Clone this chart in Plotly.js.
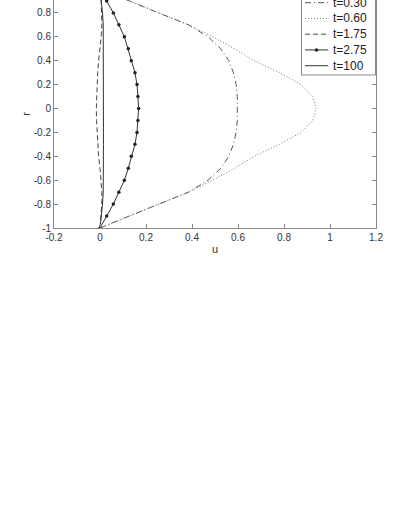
<!DOCTYPE html>
<html>
<head>
<meta charset="utf-8">
<script src="https://cdn.plot.ly/plotly-3.0.1.min.js"></script>
<style>html,body{margin:0;padding:0;background:#fff;}#chart{width:399px;height:516px;}</style>
</head>
<body>
<div id="chart"></div>
<script>
// radial positions
var r = [-1,-0.9,-0.8,-0.7,-0.6,-0.5,-0.4,-0.3,-0.2,-0.1,0,0.1,0.2,0.3,0.4,0.5,0.6,0.7,0.8,0.9,1];
// velocity profiles u(r)
var u_030 = [0,0.125,0.255,0.385,0.47,0.525,0.56,0.58,0.592,0.597,0.598,0.597,0.592,0.58,0.56,0.525,0.47,0.385,0.255,0.125,0];
var u_060 = [0,0.125,0.255,0.385,0.49,0.585,0.67,0.78,0.875,0.925,0.94,0.925,0.875,0.78,0.67,0.585,0.49,0.385,0.255,0.125,0];
var u_175 = [0,0.005,0.008,0.008,0.005,0,-0.006,-0.01,-0.013,-0.015,-0.016,-0.015,-0.013,-0.01,-0.006,0,0.005,0.008,0.008,0.005,0];
var u_275 = [0,0.029,0.058,0.082,0.106,0.123,0.136,0.152,0.161,0.165,0.168,0.165,0.161,0.152,0.136,0.123,0.106,0.082,0.058,0.029,0];
var u_100 = [0,0.006,0.011,0.014,0.015,0.015,0.015,0.015,0.015,0.015,0.015,0.015,0.015,0.015,0.015,0.015,0.015,0.014,0.011,0.006,0];
var names = ["t=0.30","t=0.60","t=1.75","t=2.75","t=100"];
var xTicks = [-0.2,0,0.2,0.4,0.6,0.8,1,1.2];
var xTickText = ["-0.2","0","0.2","0.4","0.6","0.8","1","1.2"];
var yTicks = [-1,-0.8,-0.6,-0.4,-0.2,0,0.2,0.4,0.6,0.8];
var yTickText = ["-1","-0.8","-0.6","-0.4","-0.2","0","0.2","0.4","0.6","0.8"];

var styles = [
  {color:"#555", width:1, dash:"6px,3px,1px,3px"},
  {color:"#777", width:1, dash:"1px,2px"},
  {color:"#444", width:1, dash:"5px,3px"},
  {color:"#333", width:1, dash:"solid"},
  {color:"#333", width:1, dash:"solid"}
];
var series = [u_030, u_060, u_175, u_275, u_100];
var traces = series.map(function(u, i){
  var t = {x:u, y:r, name:names[i], mode:"lines", line:styles[i], showlegend:false};
  if (i === 3) { t.mode = "lines+markers"; t.marker = {color:"#222", size:3.5}; }
  return t;
});

// plot geometry (pixels) for a compact MATLAB-style legend
var W = 399, H = 516, ML = 54, MR = 23, MT = 0, MB = 288;
var PW = W - ML - MR, PH = H - MT - MB;
function px(x){ return (x - ML) / PW; }
function py(y){ return (PH + MT - y) / PH; }
var legRowY = [2.7, 18.45, 34.2, 49.95, 65.7];
var shapes = [
  {type:"rect", xref:"paper", yref:"paper", x0:px(301.5), x1:px(375.5), y0:py(75), y1:py(-14),
   fillcolor:"#fff", line:{color:"#888", width:1}, layer:"above"}
];
var annotations = [];
names.forEach(function(n, i){
  shapes.push({type:"line", xref:"paper", yref:"paper", x0:px(305), x1:px(328), y0:py(legRowY[i]), y1:py(legRowY[i]),
               line:{color:styles[i].color, width:1, dash:styles[i].dash}, layer:"above"});
  if (i === 3) {
    shapes.push({type:"circle", xref:"paper", yref:"paper", x0:px(315), x1:px(318), y0:py(legRowY[i]+1.5), y1:py(legRowY[i]-1.5),
                 fillcolor:"#222", line:{color:"#222", width:0.5}, layer:"above"});
  }
  annotations.push({xref:"paper", yref:"paper", x:px(331), y:py(legRowY[i]), xanchor:"left", yanchor:"middle",
                    text:n, showarrow:false, font:{size:12, color:"#222"}});
});

var axFont = {family:"Liberation Sans, Arial, sans-serif", size:10, color:"#333"};
var layout = {
  width:W, height:H,
  margin:{l:ML, r:MR, t:MT, b:MB, autoexpand:false},
  paper_bgcolor:"#fff", plot_bgcolor:"#fff",
  font:{family:"Liberation Sans, Arial, sans-serif", size:12, color:"#222"},
  showlegend:false,
  xaxis:{range:[-0.2,1.2], tickvals:xTicks, ticktext:xTickText, ticks:"inside", ticklen:4, tickcolor:"#888",
         showline:true, linecolor:"#888", linewidth:1, showgrid:false, zeroline:false, mirror:false,
         tickfont:axFont, title:{text:"u", font:{size:11, color:"#333"}, standoff:3}},
  yaxis:{range:[-1,0.908], tickvals:yTicks, ticktext:yTickText, ticks:"inside", ticklen:4, tickcolor:"#888",
         showline:true, linecolor:"#888", linewidth:1, showgrid:false, zeroline:false, mirror:"ticks",
         tickfont:axFont, title:{text:"r", font:{size:11, color:"#333"}, standoff:0}},
  shapes:shapes,
  annotations:annotations
};
Plotly.newPlot("chart", traces, layout, {staticPlot:true, displayModeBar:false});
</script>
</body>
</html>
